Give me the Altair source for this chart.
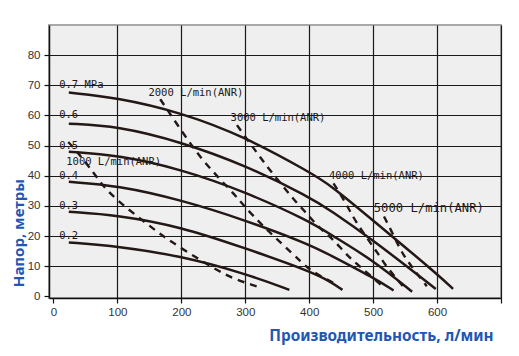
import altair as alt
import pandas as pd

# Pump curves: flow (L/min) vs head (m) for each supply air pressure (MPa)
pressures = ["0.7", "0.6", "0.5", "0.4", "0.3", "0.2"]
p07_x = [24, 100, 200, 300, 400, 433, 500, 600, 625]
p07_y = [67.6, 65.9, 61.0, 52.9, 41.3, 37.0, 25.2, 7.5, 2.5]
p06_x = [24, 100, 200, 300, 400, 433, 500, 598]
p06_y = [57.3, 56.5, 51.2, 43.5, 33.0, 28.6, 18.7, 2.5]
p05_x = [24, 100, 200, 300, 400, 433, 500, 561]
p05_y = [48.0, 46.9, 42.2, 34.7, 25.0, 20.6, 12.0, 1.6]
p04_x = [24, 100, 200, 300, 400, 433, 500, 532]
p04_y = [38.0, 36.8, 32.0, 25.3, 17.3, 13.7, 6.3, 2.0]
p03_x = [24, 100, 200, 300, 400, 433, 452]
p03_y = [28.1, 27.0, 23.1, 16.0, 8.5, 5.0, 2.2]
p02_x = [24, 100, 200, 300, 369]
p02_y = [17.9, 16.7, 13.4, 7.6, 2.2]

# Air consumption lines (L/min ANR)
air = ["1000", "2000", "3000", "4000", "5000"]
a1000_x = [23, 32, 66, 76, 102, 139, 172, 209, 251, 282, 319]
a1000_y = [51.2, 49.3, 40.2, 36.9, 31.4, 25.3, 19.8, 14.8, 9.3, 5.8, 3.3]
a2000_x = [167, 204, 230, 258, 285, 298, 326, 358, 389, 403, 444]
a2000_y = [65.4, 53.7, 46.0, 39.4, 33.4, 30.0, 23.7, 17.3, 11.2, 8.4, 3.8]
a3000_x = [287, 310, 324, 338, 363, 379, 394, 407, 423, 437, 452, 466, 481, 498, 516]
a3000_y = [56.8, 50.0, 46.0, 42.0, 35.5, 31.4, 28.0, 24.8, 21.4, 19.0, 15.4, 12.3, 9.6, 6.5, 3.2]
a4000_x = [438, 450, 462, 471, 493, 507, 518, 533, 547]
a4000_y = [37.5, 33.5, 29.0, 25.5, 18.5, 14.5, 10.7, 6.8, 3.3]
a5000_x = [517, 528, 538, 548, 559, 571, 584]
a5000_y = [26.5, 22.0, 17.5, 13.5, 10.3, 6.9, 3.4]

# Annotations
p_labels = ["0.7 MPa", "0.6", "0.5", "0.4", "0.3", "0.2"]
p_label_x = [9, 9, 9, 9, 9, 9]
p_label_y = [70, 60, 50, 40, 30, 20]
a_labels = ["1000 L/min(ANR)", "2000 L/min(ANR)", "3000 L/min(ANR)", "4000 L/min(ANR)"]
a_label_x = [20, 148.6, 277, 431]
a_label_y = [44.6, 67.5, 59.3, 40.0]
big_label = ["5000 L/min(ANR)"]
big_label_x = [501]
big_label_y = [29.2]

x_ticks = [0, 100, 200, 300, 400, 500, 600, 700]
y_ticks = [0, 10, 20, 30, 40, 50, 60, 70, 80]

curve_rows = []
for name, xs, ys in zip(pressures, [p07_x, p06_x, p05_x, p04_x, p03_x, p02_x],
                        [p07_y, p06_y, p05_y, p04_y, p03_y, p02_y]):
    for i, (a, b) in enumerate(zip(xs, ys)):
        curve_rows.append({"x": a, "y": b, "s": name, "o": i})
curves = pd.DataFrame(curve_rows)

air_rows = []
for name, xs, ys in zip(air, [a1000_x, a2000_x, a3000_x, a4000_x, a5000_x],
                        [a1000_y, a2000_y, a3000_y, a4000_y, a5000_y]):
    for i, (a, b) in enumerate(zip(xs, ys)):
        air_rows.append({"x": a, "y": b, "s": name, "o": i})
airdf = pd.DataFrame(air_rows)

plab = pd.DataFrame({"x": p_label_x, "y": p_label_y, "t": p_labels})
alab = pd.DataFrame({"x": a_label_x, "y": a_label_y, "t": a_labels})
blab = pd.DataFrame({"x": big_label_x, "y": big_label_y, "t": big_label})

title_color = "#2156b4"
grid_cond = {"condition": {"test": "datum.value == 0", "value": "transparent"}, "value": "#1a1a1a"}

X = alt.X("x:Q",
          scale=alt.Scale(domain=[-7, 700], nice=False, zero=False),
          axis=alt.Axis(values=x_ticks,
                        labelExpr="datum.value == 700 ? '' : datum.label",
                        title="Производительность, л/мин",
                        titleX=332, titleY=37, titleAlign="center",
                        titleBaseline="middle", titleColor=title_color,
                        titleFont="Noto Sans", titleFontSize=15.3, titleFontWeight="bold",
                        domainColor="#111", domainWidth=1.5,
                        tickColor="#111", tickSize=5, tickWidth=1.2,
                        labelFont="Liberation Sans", labelFontSize=11.5, labelColor="#333",
                        labelPadding=3,
                        grid=True, gridColor=grid_cond, gridWidth=1.2))
Y = alt.Y("y:Q",
          scale=alt.Scale(domain=[-0.5, 90], nice=False, zero=False),
          axis=alt.Axis(values=y_ticks,
                        title="Напор, метры",
                        titleX=-31, titleY=207.5, titleAngle=270, titleAlign="center",
                        titleBaseline="middle", titleColor=title_color,
                        titleFont="Noto Sans", titleFontSize=15, titleFontWeight="bold",
                        domainColor="#111", domainWidth=1.5,
                        tickColor="#111", tickSize=5, tickWidth=1.2,
                        labelFont="Liberation Sans", labelFontSize=11.5, labelColor="#333",
                        labelPadding=4,
                        grid=True, gridColor=grid_cond, gridWidth=1.2))

ink = "#231815"

solid = alt.Chart(curves).mark_line(color=ink, strokeWidth=2.5, interpolate="basis").encode(
    x=X, y=Y, detail="s:N", order="o:Q")
dashed = alt.Chart(airdf).mark_line(color=ink, strokeWidth=2.4, strokeDash=[7, 6],
                                    interpolate="basis").encode(
    x=X, y=Y, detail="s:N", order="o:Q")

font = "DejaVu Sans Mono"
t1 = alt.Chart(plab).mark_text(align="left", baseline="middle", font=font, fontSize=10.5,
                               color=ink).encode(x=X, y=Y, text="t:N")
t2 = alt.Chart(alab).mark_text(align="left", baseline="middle", font=font, fontSize=10.5,
                               color=ink).encode(x=X, y=Y, text="t:N")
t3 = alt.Chart(blab).mark_text(align="left", baseline="middle", font=font, fontSize=12.2,
                               color=ink).encode(x=X, y=Y, text="t:N")

chart = alt.layer(solid, dashed, t1, t2, t3).properties(
    width=452, height=273,
    autosize=alt.AutoSizeParams(type="none"),
    padding={"left": 41, "top": 17, "right": 10, "bottom": 50},
).configure_view(fill="#efefef", stroke="#a8a8a8", strokeWidth=2)

chart.save("out.html", embed_options={"renderer": "svg", "actions": False})
